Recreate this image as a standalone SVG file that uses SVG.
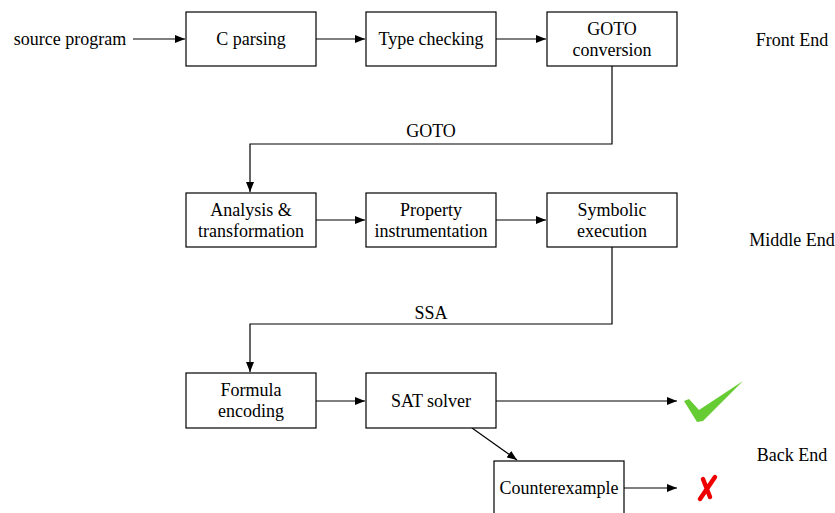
<svg xmlns="http://www.w3.org/2000/svg" width="835" height="513" viewBox="0 0 835 513">
<defs>
<marker id="arr" viewBox="0 0 10 8" refX="10" refY="4" markerWidth="10" markerHeight="8" markerUnits="userSpaceOnUse" orient="auto">
<path d="M0,0 L10,4 L0,8 Z" fill="#000"/>
</marker>
</defs>
<style>
.box{fill:#fff;stroke:#000;stroke-width:1.2}
.c{fill:none;stroke:#000;stroke-width:1.2;marker-end:url(#arr)}
.t{font-family:'Liberation Serif','Times New Roman',serif;font-size:18px;text-anchor:middle;fill:#000}
</style>
<rect width="835" height="513" fill="#fff"/>
<g id="connectors">
<path class="c" d="M133,39 H185"/>
<path class="c" d="M316,39 H365"/>
<path class="c" d="M496,39 H546"/>
<path class="c" d="M612,66 V144 H250 V192"/>
<path class="c" d="M316,220 H365"/>
<path class="c" d="M496,220 H546"/>
<path class="c" d="M612,247 V324 H250 V372"/>
<path class="c" d="M316,401 H365"/>
<path class="c" d="M496,401 H677"/>
<path class="c" d="M472,428 L517,460"/>
<path class="c" d="M624,488 H677"/>
<text class="t" x="431" y="137">GOTO</text>
<text class="t" x="431" y="319">SSA</text>
</g>
<g id="source"><text class="t" x="70" y="45">source program</text></g>
<g id="cparsing"><rect class="box" x="186" y="12" width="130" height="54"/><text class="t" x="251" y="45">C parsing</text></g>
<g id="typecheck"><rect class="box" x="366" y="12" width="130" height="54"/><text class="t" x="431" y="45">Type checking</text></g>
<g id="gotoconv"><rect class="box" x="547" y="12" width="130" height="54"/><text class="t" x="612" y="35">GOTO</text><text class="t" x="612" y="56">conversion</text></g>
<g id="analysis"><rect class="box" x="186" y="193" width="130" height="54"/><text class="t" x="251" y="216">Analysis &amp;</text><text class="t" x="251" y="237">transformation</text></g>
<g id="property"><rect class="box" x="366" y="193" width="130" height="54"/><text class="t" x="431" y="216">Property</text><text class="t" x="431" y="237">instrumentation</text></g>
<g id="symbolic"><rect class="box" x="547" y="193" width="130" height="54"/><text class="t" x="612" y="216">Symbolic</text><text class="t" x="612" y="237">execution</text></g>
<g id="formula"><rect class="box" x="186" y="373" width="130" height="55"/><text class="t" x="251" y="396">Formula</text><text class="t" x="251" y="417">encoding</text></g>
<g id="sat"><rect class="box" x="366" y="373" width="130" height="55"/><text class="t" x="431" y="407">SAT solver</text></g>
<g id="counterexample"><rect class="box" x="494" y="461" width="130" height="54"/><text class="t" x="559" y="494">Counterexample</text></g>
<g id="check"><path d="M684,401 L689,399 L699,410 L743,381 L703,421 L697,422 Z" fill="#66cc33"/></g>
<g id="cross"><path d="M715,477 L700,499 M703,479 L710,497" stroke="#ee0000" stroke-width="4.5" stroke-linecap="round" fill="none"/></g>
<g id="labels">
<text class="t" x="792" y="46">Front End</text>
<text class="t" x="792" y="246">Middle End</text>
<text class="t" x="792" y="461">Back End</text>
</g>
</svg>
